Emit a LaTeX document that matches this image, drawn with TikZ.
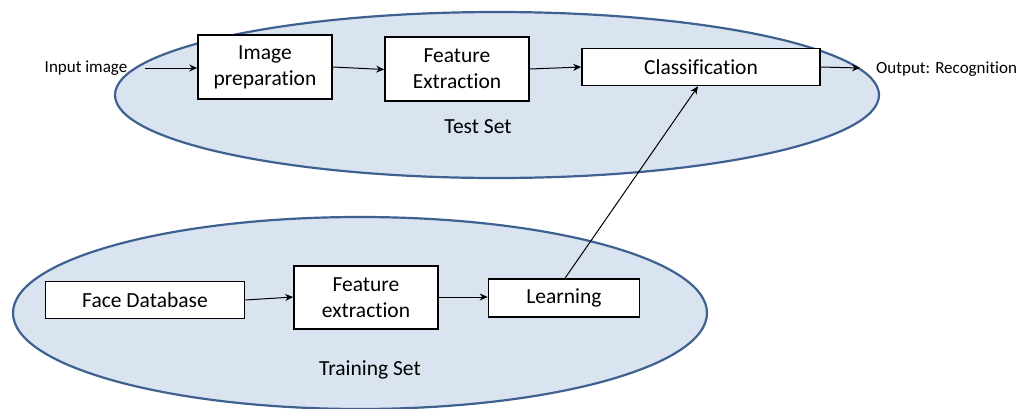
\documentclass[tikz,border=0pt]{standalone}
\usepackage{fontspec}
\setmainfont{Carlito}[Ligatures={NoCommon,NoRare,NoContextual}]
\usetikzlibrary{arrows.meta}
\definecolor{setfill}{HTML}{DAE3F0}
\definecolor{setline}{HTML}{3E6190}
\tikzset{
  x=1pt, y=-1pt,
  setellipse/.style={fill=setfill, draw=setline, line width=2.2pt},
  procbox/.style={draw=black, line width=1.6pt, fill=white, inner sep=0pt, align=center, font=\fontsize{21.5}{26}\selectfont},
  lbl/.style={font=\fontsize{17}{20}\selectfont, inner sep=0pt},
  setlbl/.style={font=\fontsize{21.5}{25}\selectfont, inner sep=0pt},
  flow/.style={-{Stealth[length=8pt,width=7pt]}, line width=1pt, black}
}
\begin{document}
\begin{tikzpicture}
\useasboundingbox (0,0) rectangle (1021,408);
% set ellipses
\draw[setellipse] (497,95) ellipse [x radius=382, y radius=83];
\draw[setellipse] (360,313) ellipse [x radius=347, y radius=96];
% set labels
\node[setlbl] (testlbl) at (478,127) {Test Set};
\node[setlbl] (trainlbl) at (370,370) {Training Set};
% test pipeline
\node[procbox, minimum width=134, minimum height=64] (imgprep) at (265,67) {Image\\preparation};
\node[procbox, minimum width=144, minimum height=64] (featex) at (457,69) {Feature\\Extraction};
\node[procbox, minimum width=238, minimum height=37] (classif) at (701,67) {Classification};
% training pipeline
\node[procbox, minimum width=199, minimum height=37] (facedb) at (145,300) {Face Database};
\node[procbox, minimum width=144, minimum height=63] (featex2) at (366,297.5) {Feature\\extraction};
\node[procbox, minimum width=151, minimum height=38] (learn) at (564,298) {Learning};
% outer labels
\node[lbl] (input) at (86,68) {Input image};
\node[lbl, anchor=west] (output) at (876,69) {Output: Recognition};
\coordinate (instart) at (145,68);
\coordinate (outend) at (860,68);
% connectors
\draw[flow] (instart) -- (instart -| imgprep.west);
\draw[flow] (imgprep.east |- 0,67) -- (featex.west |- 0,69.5);
\draw[flow] (featex.east |- 0,69) -- (classif.west |- 0,67);
\draw[flow] (classif.east |- 0,67) -- (outend);
\draw[flow] (facedb.east |- 0,300) -- (featex2.west |- 0,297);
\draw[flow] (featex2.east |- 0,297) -- (learn.west |- 0,297);
\draw[flow] (learn.north -| 565,0) -- (classif.south -| 698,0);
\end{tikzpicture}
\end{document}
